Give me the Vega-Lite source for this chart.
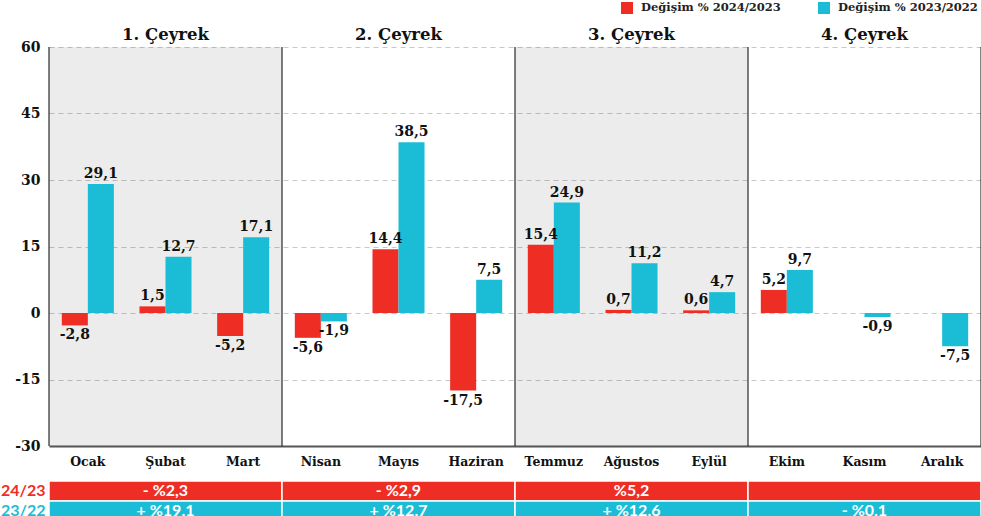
{
  "$schema": "https://vega.github.io/schema/vega-lite/v6.json",
  "padding": {"left": 0, "top": 2, "right": 1, "bottom": 0},
  "config": {
    "locale": {"number": {"decimal": ",", "thousands": ".", "grouping": [3], "currency": ["", ""], "minus": "-"}},
    "view": {"stroke": null},
    "font": "DejaVu Serif"
  },
  "datasets": {
    "months": [
      {"month": "Ocak", "series": "Değişim % 2024/2023", "value": -2.8},
      {"month": "Ocak", "series": "Değişim % 2023/2022", "value": 29.1},
      {"month": "Şubat", "series": "Değişim % 2024/2023", "value": 1.5},
      {"month": "Şubat", "series": "Değişim % 2023/2022", "value": 12.7},
      {"month": "Mart", "series": "Değişim % 2024/2023", "value": -5.2},
      {"month": "Mart", "series": "Değişim % 2023/2022", "value": 17.1},
      {"month": "Nisan", "series": "Değişim % 2024/2023", "value": -5.6},
      {"month": "Nisan", "series": "Değişim % 2023/2022", "value": -1.9},
      {"month": "Mayıs", "series": "Değişim % 2024/2023", "value": 14.4},
      {"month": "Mayıs", "series": "Değişim % 2023/2022", "value": 38.5},
      {"month": "Haziran", "series": "Değişim % 2024/2023", "value": -17.5},
      {"month": "Haziran", "series": "Değişim % 2023/2022", "value": 7.5},
      {"month": "Temmuz", "series": "Değişim % 2024/2023", "value": 15.4},
      {"month": "Temmuz", "series": "Değişim % 2023/2022", "value": 24.9},
      {"month": "Ağustos", "series": "Değişim % 2024/2023", "value": 0.7},
      {"month": "Ağustos", "series": "Değişim % 2023/2022", "value": 11.2},
      {"month": "Eylül", "series": "Değişim % 2024/2023", "value": 0.6},
      {"month": "Eylül", "series": "Değişim % 2023/2022", "value": 4.7},
      {"month": "Ekim", "series": "Değişim % 2024/2023", "value": 5.2},
      {"month": "Ekim", "series": "Değişim % 2023/2022", "value": 9.7},
      {"month": "Kasım", "series": "Değişim % 2023/2022", "value": -0.9},
      {"month": "Aralık", "series": "Değişim % 2023/2022", "value": -7.5}
    ],
    "quarters": [
      {"quarter": "1. Çeyrek", "shaded": true},
      {"quarter": "2. Çeyrek", "shaded": false},
      {"quarter": "3. Çeyrek", "shaded": true},
      {"quarter": "4. Çeyrek", "shaded": false}
    ],
    "table": [
      {"quarter": "1. Çeyrek", "row": "24/23", "label": "- %2,3"},
      {"quarter": "2. Çeyrek", "row": "24/23", "label": "- %2,9"},
      {"quarter": "3. Çeyrek", "row": "24/23", "label": "%5,2"},
      {"quarter": "4. Çeyrek", "row": "24/23", "label": ""},
      {"quarter": "1. Çeyrek", "row": "23/22", "label": "+ %19,1"},
      {"quarter": "2. Çeyrek", "row": "23/22", "label": "+ %12,7"},
      {"quarter": "3. Çeyrek", "row": "23/22", "label": "+ %12,6"},
      {"quarter": "4. Çeyrek", "row": "23/22", "label": "- %0,1"}
    ]
  },
  "spacing": 35,
  "bounds": "flush",
  "resolve": {"scale": {"color": "independent"}, "legend": {"color": "independent"}},
  "vconcat": [
    {
      "width": 932,
      "height": 399,
      "resolve": {"scale": {"x": "independent"}},
      "layer": [
        {
          "data": {"name": "quarters"},
          "encoding": {
            "x": {"field": "quarter", "type": "nominal", "scale": {"domain": ["1. Çeyrek", "2. Çeyrek", "3. Çeyrek", "4. Çeyrek"], "paddingInner": 0, "paddingOuter": 0}, "axis": null}
          },
          "layer": [
            {
              "transform": [{"filter": "datum.shaded"}],
              "mark": {"type": "bar", "fill": "#000000", "opacity": 0.075},
              "encoding": {
                "y": {"datum": 60, "type": "quantitative"},
                "y2": {"datum": -30}
              }
            },
            {
              "mark": {"type": "rule", "color": "#000000", "strokeWidth": 1},
              "encoding": {
                "x": {"field": "quarter", "type": "nominal", "bandPosition": 0},
                "y": {"datum": 60, "type": "quantitative"},
                "y2": {"datum": -30}
              }
            },
            {
              "transform": [{"filter": {"field": "quarter", "equal": "4. Çeyrek"}}],
              "mark": {"type": "rule", "color": "#000000", "strokeWidth": 1},
              "encoding": {
                "x": {"field": "quarter", "type": "nominal", "bandPosition": 1},
                "y": {"datum": 60, "type": "quantitative"},
                "y2": {"datum": -30}
              }
            },
            {
              "mark": {"type": "text", "baseline": "bottom", "dy": -4, "fontSize": 16.5, "fontWeight": "bold", "color": "#111111"},
              "encoding": {
                "y": {"datum": 60, "type": "quantitative"},
                "text": {"field": "quarter"}
              }
            }
          ]
        },
        {
          "data": {"name": "months"},
          "encoding": {
            "x": {
              "field": "month", "type": "nominal",
              "scale": {"domain": ["Ocak", "Şubat", "Mart", "Nisan", "Mayıs", "Haziran", "Temmuz", "Ağustos", "Eylül", "Ekim", "Kasım", "Aralık"], "paddingInner": 0.33, "paddingOuter": 0.165},
              "axis": {"title": null, "ticks": false, "labelAngle": 0, "labelPadding": 9, "labelFont": "DejaVu Serif", "labelFontWeight": "bold", "labelFontSize": 12.5, "labelColor": "#111111", "domainColor": "#555555", "domainWidth": 2}
            },
            "xOffset": {"field": "series", "type": "nominal", "scale": {"domain": ["Değişim % 2024/2023", "Değişim % 2023/2022"], "paddingInner": 0, "paddingOuter": 0}},
            "y": {
              "field": "value", "type": "quantitative",
              "scale": {"domain": [-30, 60], "nice": false},
              "axis": {"title": null, "values": [-30, -15, 0, 15, 30, 45, 60], "grid": true, "gridDash": [5, 4], "gridColor": "#c8c8c8", "domain": false, "ticks": false, "labelPadding": 9, "labelFont": "DejaVu Serif", "labelFontWeight": "bold", "labelFontSize": 14, "labelColor": "#111111"}
            }
          },
          "layer": [
            {
              "mark": {"type": "bar"},
              "encoding": {
                "color": {
                  "field": "series", "type": "nominal",
                  "scale": {"domain": ["Değişim % 2024/2023", "Değişim % 2023/2022"], "range": ["#EE2E24", "#1BBCD6"]},
                  "legend": {"orient": "none", "legendX": 572, "legendY": -45, "direction": "horizontal", "title": null, "symbolType": "square", "symbolSize": 144, "symbolStrokeWidth": 0, "labelFont": "DejaVu Serif", "labelFontWeight": "bold", "labelFontSize": 11.5, "labelColor": "#222222", "labelOffset": 8, "columnPadding": 37, "labelLimit": 300}
                }
              }
            },
            {
              "transform": [{"filter": "datum.value >= 0"}],
              "mark": {"type": "text", "baseline": "bottom", "dy": -3, "fontSize": 14, "fontWeight": "bold", "color": "#111111"},
              "encoding": {"text": {"field": "value", "type": "quantitative", "format": ".1f"}}
            },
            {
              "transform": [{"filter": "datum.value < 0"}],
              "mark": {"type": "text", "baseline": "top", "dy": 3, "fontSize": 14, "fontWeight": "bold", "color": "#111111"},
              "encoding": {"text": {"field": "value", "type": "quantitative", "format": ".1f"}}
            }
          ]
        }
      ]
    },
    {
      "width": 932,
      "height": 40,
      "data": {"name": "table"},
      "encoding": {
        "x": {"field": "quarter", "type": "nominal", "scale": {"domain": ["1. Çeyrek", "2. Çeyrek", "3. Çeyrek", "4. Çeyrek"], "paddingInner": 0, "paddingOuter": 0}, "axis": null},
        "y": {
          "field": "row", "type": "nominal",
          "scale": {"domain": ["24/23", "23/22"], "paddingInner": 0, "paddingOuter": 0},
          "axis": {"title": null, "ticks": false, "domain": false, "labelPadding": 4, "labelFont": "Lato", "labelFontWeight": "bold", "labelFontSize": 16, "labelColor": {"condition": {"test": "datum.value === '24/23'", "value": "#EE2E24"}, "value": "#1BBCD6"}}
        }
      },
      "layer": [
        {
          "mark": {"type": "rect", "stroke": "#ffffff", "strokeWidth": 1.5},
          "encoding": {
            "color": {"field": "row", "type": "nominal", "scale": {"domain": ["24/23", "23/22"], "range": ["#EE2E24", "#1BBCD6"]}, "legend": null}
          }
        },
        {
          "mark": {"type": "text", "color": "#ffffff", "font": "Lato", "fontWeight": "bold", "fontSize": 16},
          "encoding": {"text": {"field": "label"}}
        }
      ]
    }
  ]
}
